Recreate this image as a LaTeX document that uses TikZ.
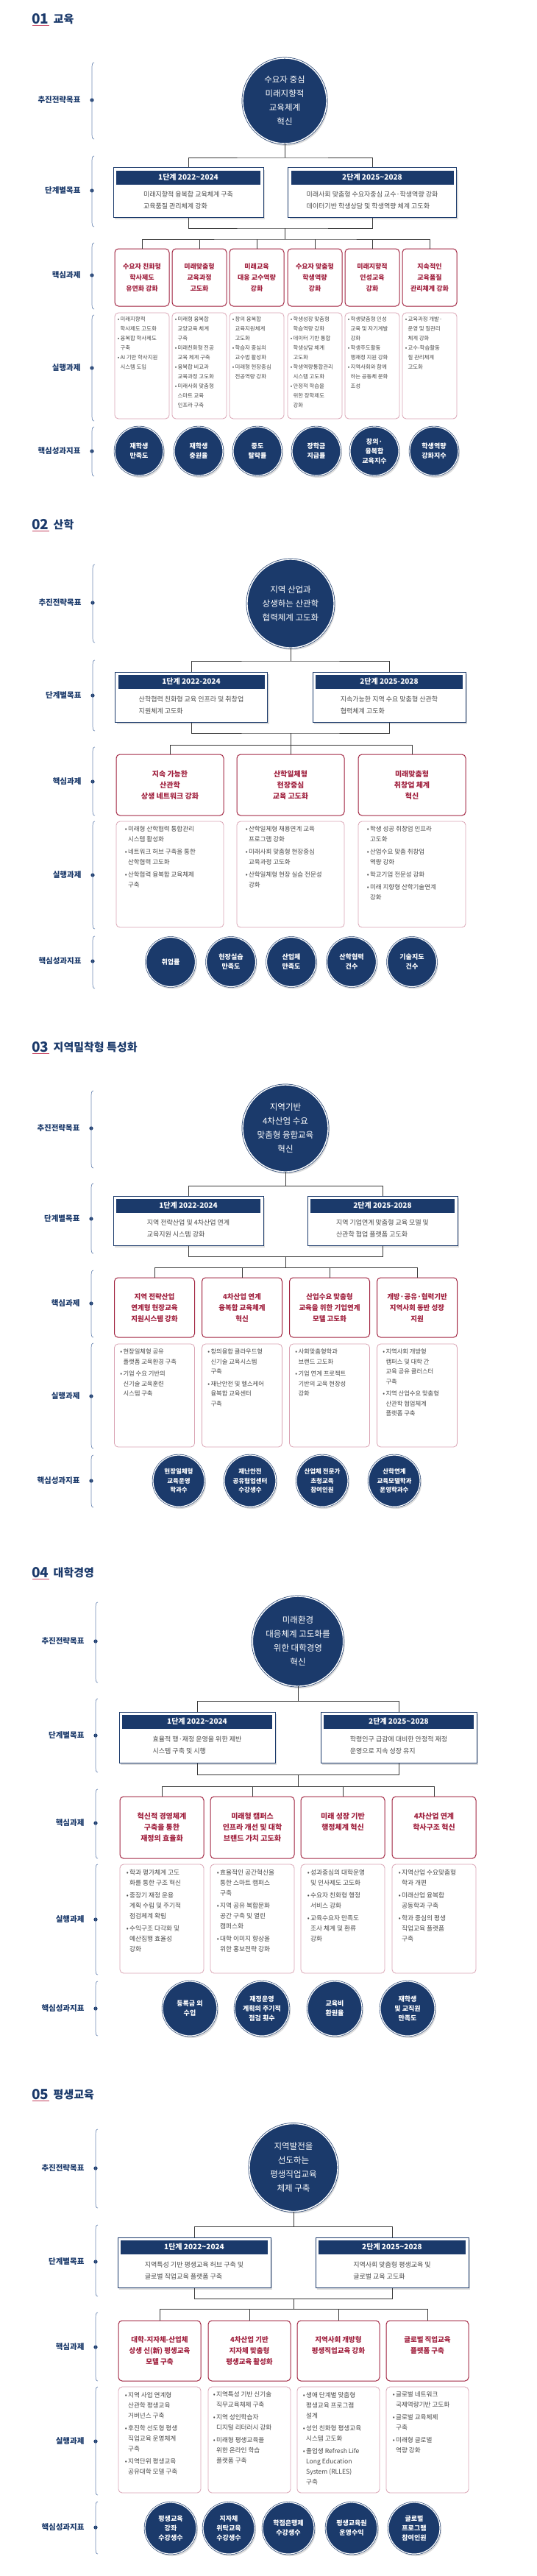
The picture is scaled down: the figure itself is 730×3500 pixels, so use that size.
\documentclass[tikz,border=0pt]{standalone}
\usepackage{fontspec}
\setmainfont{Noto Sans CJK KR}
\usetikzlibrary{shapes.geometric,calc,shadows}

\definecolor{navyc}{HTML}{1B3A6B}
\definecolor{maroonc}{HTML}{A1223F}
\definecolor{pinkc}{HTML}{D9A3B3}
\definecolor{linec}{HTML}{3A3A3A}
\definecolor{bracec}{HTML}{6F8AB5}
\definecolor{redline}{HTML}{C4405E}
\definecolor{textc}{HTML}{474747}

\newcommand{\bu}{•\,}
\newcommand{\ct}{\hphantom{•\,}}
\newcommand{\ph}{\phantom{가}}

\tikzset{
  softshadow/.style={drop shadow={shadow xshift=2pt,shadow yshift=-3pt,opacity=0.22,fill=black!60}},
  goal/.style={ellipse, fill=navyc, draw=navyc, double=white, double distance=1.4pt, line width=0.7pt,
    text=white, align=center, inner sep=0pt, font=\fontsize{11.5}{19}\selectfont, softshadow},
  phasebox/.style={draw=navyc, line width=1pt, fill=white, softshadow},
  phasehead/.style={fill=navyc, text=white, anchor=north, inner sep=0pt, minimum height=19,
    font=\bfseries\fontsize{10}{12}\selectfont},
  phasetext/.style={text=textc, align=left, inner sep=0pt, font=\fontsize{9}{16}\selectfont},
  task/.style={draw=maroonc, line width=1pt, rounded corners=5pt, fill=white, text=maroonc,
    align=center, inner sep=1pt, font=\bfseries\fontsize{10}{15}\selectfont},
  execbox/.style={draw=pinkc, line width=0.8pt, rounded corners=5pt, fill=white},
  exectext/.style={text=textc, align=left, anchor=north west, inner sep=0pt},
  kpi/.style={circle, fill=navyc, draw=navyc, double=white, double distance=1.2pt, line width=0.6pt,
    text=white, align=center, inner sep=0pt, font=\bfseries\fontsize{9}{13}\selectfont, softshadow},
  lab/.style={text=navyc, anchor=east, font=\bfseries\fontsize{10.5}{12}\selectfont},
  brace/.style={draw=bracec, line width=0.7pt},
  conn/.style={draw=linec, line width=0.9pt},
  secnum/.style={text=navyc, inner sep=1pt, font=\bfseries\fontsize{19}{20}\selectfont},
  sectext/.style={text=navyc, inner sep=1pt, font=\bfseries\fontsize{15}{18}\selectfont}
}

% side label with dot and bracket: name, x, y, top, bottom, text
\newcommand{\sidelab}[6]{%
  \node[lab] (#1) at (#2-12,#3) {#6};
  \fill[navyc] (#2,#3) circle (2.6);
  \draw[brace] ($(#2,#4)+(3,0)$) to[out=180,in=90] ($(#2,#4)+(0,6)$) -- ($(#2,#5)+(0,-6)$)
    to[out=-90,in=180] ($(#2,#5)+(3,0)$);}
% section title: name, y, number, text
\newcommand{\sectitle}[4]{%
  \node[secnum, anchor=west] (#1) at (42,#2) {#3};
  \node[sectext, anchor=west] (#1t) at ($(#1.east)+(4,0)$) {#4};
  \draw[redline, line width=1.4pt] ($(#1.south west)+(2,0)$) -- ($(#1.south east)+(-1,0)$);}

\begin{document}
\begin{tikzpicture}[x=1pt,y=-1pt]
\useasboundingbox[fill=white] (0,0) rectangle (730,3500);

%%%%%%%%%% 01 교육
\sectitle{s1}{26}{01}{교육}
\sidelab{l11}{125}{136}{85}{189}{추진전략목표}
\sidelab{l12}{125}{259}{212}{308}{단계별목표}
\sidelab{l13}{125}{374}{330}{420}{핵심과제}
\sidelab{l14}{125}{500}{428}{572}{실행과제}
\sidelab{l15}{125}{613}{580}{647}{핵심성과지표}

\node[goal, minimum width=114, minimum height=116] (g1) at (387,137) {수요자 중심\\미래지향적\\교육체계\\혁신};

\node[phasebox, minimum width=204, minimum height=67] (p11) at (256,261.5) {};
\node[phasehead, minimum width=196] (h11) at ($(p11.north)+(0,4)$) {1단계 2022\textasciitilde2024};
\node[phasetext] (b11) at ($(p11.center)+(0,11)$) {미래지향적 융복합 교육체계 구축\\교육품질 관리체계 강화};
\node[phasebox, minimum width=229, minimum height=67] (p12) at (506,261.5) {};
\node[phasehead, minimum width=221] (h12) at ($(p12.north)+(0,4)$) {2단계 2025\textasciitilde2028};
\node[phasetext] (b12) at ($(p12.center)+(0,11)$) {미래사회 맞춤형 수요자중심 교수·학생역량 강화\\데이터기반 학생상담 및 학생역량 체계 고도화};

\begin{scope}[every node/.append style={minimum width=74, minimum height=78}]
\node[task, font=\bfseries\fontsize{9}{15}\selectfont] (t11) at (193,377) {수요자 친화형\\학사제도\\유연화 강화};
\node[task, font=\bfseries\fontsize{9}{15}\selectfont] (t12) at (271,377) {미래맞춤형\\교육과정\\고도화};
\node[task, font=\bfseries\fontsize{9}{15}\selectfont] (t13) at (349,377) {미래교육\\대응 교수역량\\강화};
\node[task, font=\bfseries\fontsize{9}{15}\selectfont] (t14) at (428,377) {수요자 맞춤형\\학생역량\\강화};
\node[task, font=\bfseries\fontsize{9}{15}\selectfont] (t15) at (506,377) {미래지향적\\인성교육\\강화};
\node[task, font=\bfseries\fontsize{9}{15}\selectfont] (t16) at (584,377) {지속적인\\교육품질\\관리체계 강화};
\end{scope}

\foreach \n/\x in {1/193,2/271,3/349,4/428,5/506,6/584}
  \node[execbox, minimum width=74, minimum height=144] (e1\n) at (\x,497) {};
\tikzset{ex1/.style={exectext, font=\fontsize{7.4}{13}\selectfont}}
\node[ex1] (x11) at ($(e11.north west)+(4,6)$) {\bu 미래지향적\\\ct 학사제도 고도화\\\bu 융복합 학사제도\\\ct 구축\\\bu AI 기반 학사지원\\\ct 시스템 도입};
\node[ex1] (x12) at ($(e12.north west)+(4,6)$) {\bu 미래형 융복합\\\ct 교양교육 체계\\\ct 구축\\\bu 미래친화형 전공\\\ct 교육 체계 구축\\\bu 융복합 비교과\\\ct 교육과정 고도화\\\bu 미래사회 맞춤형\\\ct 스마트 교육\\\ct 인프라 구축};
\node[ex1] (x13) at ($(e13.north west)+(4,6)$) {\bu 창의 융복합\\\ct 교육지원체계\\\ct 고도화\\\bu 학습자 중심의\\\ct 교수법 활성화\\\bu 미래형 현장중심\\\ct 전공역량 강화};
\node[ex1] (x14) at ($(e14.north west)+(4,6)$) {\bu 학생성장 맞춤형\\\ct 학습역량 강화\\\bu 데이터 기반 통합\\\ct 학생상담 체계\\\ct 고도화\\\bu 학생역량통합관리\\\ct 시스템 고도화\\\bu 안정적 학습을\\\ct 위한 장학제도\\\ct 강화};
\node[ex1] (x15) at ($(e15.north west)+(4,6)$) {\bu 학생맞춤형 인성\\\ct 교육 및 자기계발\\\ct 강화\\\bu 학생주도활동\\\ct 행재정 지원 강화\\\bu 지역사회와 함께\\\ct 하는 공동체 문화\\\ct 조성};
\node[ex1] (x16) at ($(e16.north west)+(4,6)$) {\bu 교육과정 개발·\\\ct 운영 및 질관리\\\ct 체계 강화\\\bu 교수-학습활동\\\ct 질 관리체계\\\ct 고도화};

\node[kpi, minimum size=66] (k11) at (189,613) {재학생\\만족도};
\node[kpi, minimum size=66] (k12) at (270,613) {재학생\\충원율};
\node[kpi, minimum size=66] (k13) at (350,613) {중도\\탈락률};
\node[kpi, minimum size=66] (k14) at (430,613) {장학금\\지급률};
\node[kpi, minimum size=66] (k15) at (509,613) {창의·\\융복합\\교육지수};
\node[kpi, minimum size=66] (k16) at (590,613) {학생역량\\강화지수};

\coordinate (a11) at (387,214);
\coordinate (a12) at (387,310);
\coordinate (a13) at (387,325);
\draw[conn] (g1.south) -- (a11);
\draw[conn] (p11.north) |- (a11) -| (p12.north);
\draw[conn] (p11.south) |- (a12) -| (p12.south);
\draw[conn] (a12) -- (a13);
\draw[conn] (t11.north) |- (a13) -| (t16.north);
\foreach \i in {2,...,5} \draw[conn] (t1\i.north) -- (t1\i.north |- a13);

%%%%%%%%%% 02 산학
\sectitle{s2}{713}{02}{산학}
\sidelab{l21}{126}{819}{767}{873}{추진전략목표}
\sidelab{l22}{126}{945}{897}{993}{단계별목표}
\sidelab{l23}{126}{1062}{1015}{1108}{핵심과제}
\sidelab{l24}{126}{1189}{1116}{1262}{실행과제}
\sidelab{l25}{126}{1306}{1272}{1343}{핵심성과지표}

\node[goal, minimum width=118, minimum height=120] (g2) at (395,820) {지역 산업과\\상생하는 산관학\\협력체계 고도화};

\node[phasebox, minimum width=207, minimum height=68] (p21) at (260,947) {};
\node[phasehead, minimum width=199] (h21) at ($(p21.north)+(0,4)$) {1단계 2022-2024};
\node[phasetext] (b21) at ($(p21.center)+(0,11)$) {산학협력 친화형 교육 인프라 및 취창업\\지원체계 고도화};
\node[phasebox, minimum width=208, minimum height=68] (p22) at (529,947) {};
\node[phasehead, minimum width=200] (h22) at ($(p22.north)+(0,4)$) {2단계 2025-2028};
\node[phasetext] (b22) at ($(p22.center)+(0,11)$) {지속가능한 지역 수요 맞춤형 산관학\\협력체계 고도화};

\node[task, minimum width=146, minimum height=83] (t21) at (231,1066.5) {지속 가능한\\산관학\\상생 네트워크 강화};
\node[task, minimum width=146, minimum height=83] (t22) at (395,1066.5) {산학일체형\\현장중심\\교육 고도화};
\node[task, minimum width=146, minimum height=83] (t23) at (560,1066.5) {미래맞춤형\\취창업 체계\\혁신};

\foreach \n/\x in {1/231,2/395,3/560}
  \node[execbox, minimum width=146, minimum height=144] (e2\n) at (\x,1188) {};
\tikzset{ex2/.style={exectext, font=\fontsize{8.5}{14}\selectfont}}
\node[ex2] (x21) at ($(e21.north west)+(12,7)$) {\bu 미래형 산학협력 통합관리\\\ct 시스템 활성화\\[3pt]\bu 네트워크 허브 구축을 통한\\\ct 산학협력 고도화\\[3pt]\bu 산학협력 융복합 교육체제\\\ct 구축};
\node[ex2] (x22) at ($(e22.north west)+(12,7)$) {\bu 산학일체형 채용연계 교육\\\ct 프로그램 강화\\[3pt]\bu 미래사회 맞춤형 현장중심\\\ct 교육과정 고도화\\[3pt]\bu 산학일체형 현장 실습 전문성\\\ct 강화};
\node[ex2] (x23) at ($(e23.north west)+(12,7)$) {\bu 학생 성공 취창업 인프라\\\ct 고도화\\[3pt]\bu 산업수요 맞춤 취창업\\\ct 역량 강화\\[3pt]\bu 학교기업 전문성 강화\\[3pt]\bu 미래 지향형 산학기술연계\\\ct 강화};

\node[kpi, minimum size=67] (k21) at (232,1307) {취업률};
\node[kpi, minimum size=67] (k22) at (314,1307) {현장실습\\만족도};
\node[kpi, minimum size=67] (k23) at (396,1307) {산업체\\만족도};
\node[kpi, minimum size=67] (k24) at (478,1307) {산학협력\\건수};
\node[kpi, minimum size=67] (k25) at (560,1307) {기술지도\\건수};

\coordinate (a21) at (395,898);
\coordinate (a22) at (395,996);
\coordinate (a23) at (395,1012);
\draw[conn] (g2.south) -- (a21);
\draw[conn] (p21.north) |- (a21) -| (p22.north);
\draw[conn] (p21.south) |- (a22) -| (p22.south);
\draw[conn] (a22) -- (a23);
\draw[conn] (t21.north) |- (a23) -| (t23.north);
\draw[conn] (t22.north) -- (t22.north |- a23);

%%%%%%%%%% 03 지역밀착형 특성화
\sectitle{s3}{1423}{03}{지역밀착형 특성화}
\sidelab{l31}{124}{1533}{1482}{1587}{추진전략목표}
\sidelab{l32}{124}{1656}{1608}{1703}{단계별목표}
\sidelab{l33}{124}{1771}{1726}{1817}{핵심과제}
\sidelab{l34}{124}{1897}{1825}{1968}{실행과제}
\sidelab{l35}{124}{2012}{1977}{2048}{핵심성과지표}

\node[goal, minimum width=116, minimum height=118] (g3) at (388,1533) {지역기반\\4차산업 수요\\맞춤형 융합교육\\혁신};

\node[phasebox, minimum width=204, minimum height=67] (p31) at (256,1658.5) {};
\node[phasehead, minimum width=196] (h31) at ($(p31.north)+(0,4)$) {1단계 2022-2024};
\node[phasetext] (b31) at ($(p31.center)+(0,11)$) {지역 전략산업 및 4차산업 연계\\교육지원 시스템 강화};
\node[phasebox, minimum width=204, minimum height=67] (p32) at (520,1658.5) {};
\node[phasehead, minimum width=196] (h32) at ($(p32.north)+(0,4)$) {2단계 2025-2028};
\node[phasetext] (b32) at ($(p32.center)+(0,11)$) {지역 기업연계 맞춤형 교육 모델 및\\산관학 협업 플랫폼 고도화};

\begin{scope}[every node/.append style={minimum width=109, minimum height=81}]
\node[task, font=\bfseries\fontsize{9.5}{15}\selectfont] (t31) at (210,1776.5) {지역 전략산업\\연계형 현장교육\\지원시스템 강화};
\node[task, font=\bfseries\fontsize{9.5}{15}\selectfont] (t32) at (329,1776.5) {4차산업 연계\\융복합 교육체계\\혁신};
\node[task, font=\bfseries\fontsize{9.5}{15}\selectfont] (t33) at (448,1776.5) {산업수요 맞춤형\\교육을 위한 기업연계\\모델 고도화};
\node[task, font=\bfseries\fontsize{9.5}{15}\selectfont] (t34) at (567,1776.5) {개방·공유·협력기반\\지역사회 동반 성장\\지원};
\end{scope}

\foreach \n/\x in {1/210,2/329,3/448,4/567}
  \node[execbox, minimum width=109, minimum height=140] (e3\n) at (\x,1896) {};
\tikzset{ex3/.style={exectext, font=\fontsize{8.3}{13.5}\selectfont}}
\node[ex3] (x31) at ($(e31.north west)+(8,7)$) {\bu 현장일체형 공유\\\ct 플랫폼 교육환경 구축\\[3pt]\bu 기업 수요 기반의\\\ct 신기술 교육훈련\\\ct 시스템 구축};
\node[ex3] (x32) at ($(e32.north west)+(8,7)$) {\bu 창의융합 클라우드형\\\ct 신기술 교육시스템\\\ct 구축\\[3pt]\bu 재난안전 및 헬스케어\\\ct 융복합 교육센터\\\ct 구축};
\node[ex3] (x33) at ($(e33.north west)+(8,7)$) {\bu 사회맞춤형학과\\\ct 브랜드 고도화\\[3pt]\bu 기업 연계 프로젝트\\\ct 기반의 교육 현장성\\\ct 강화};
\node[ex3] (x34) at ($(e34.north west)+(8,7)$) {\bu 지역사회 개방형\\\ct 캠퍼스 및 대학 간\\\ct 교육 공유 클러스터\\\ct 구축\\[3pt]\bu 지역 산업수요 맞춤형\\\ct 산관학 협업체계\\\ct 플랫폼 구축};

\node[kpi, minimum size=70, font=\bfseries\fontsize{8.5}{12.5}\selectfont] (k31) at (243,2012) {현장일체형\\교육운영\\학과수};
\node[kpi, minimum size=70, font=\bfseries\fontsize{8.5}{12.5}\selectfont] (k32) at (340,2012) {재난안전\\공유협업센터\\수강생수};
\node[kpi, minimum size=70, font=\bfseries\fontsize{8.5}{12.5}\selectfont] (k33) at (438,2012) {산업체 전문가\\초청교육\\참여인원};
\node[kpi, minimum size=70, font=\bfseries\fontsize{8.5}{12.5}\selectfont] (k34) at (536,2012) {산학연계\\교육모델학과\\운영학과수};

\coordinate (a31) at (388,1611);
\coordinate (a32) at (388,1707);
\coordinate (a33) at (388,1722);
\draw[conn] (g3.south) -- (a31);
\draw[conn] (p31.north) |- (a31) -| (p32.north);
\draw[conn] (p31.south) |- (a32) -| (p32.south);
\draw[conn] (a32) -- (a33);
\draw[conn] (t31.north) |- (a33) -| (t34.north);
\foreach \i in {2,3} \draw[conn] (t3\i.north) -- (t3\i.north |- a33);

%%%%%%%%%% 04 대학경영
\sectitle{s4}{2137}{04}{대학경영}
\sidelab{l41}{130}{2230}{2177}{2286}{추진전략목표}
\sidelab{l42}{130}{2358}{2308}{2408}{단계별목표}
\sidelab{l43}{130}{2477}{2431}{2525}{핵심과제}
\sidelab{l44}{130}{2608}{2533}{2683}{실행과제}
\sidelab{l45}{130}{2729}{2692}{2766}{핵심성과지표}

\node[goal, minimum width=121, minimum height=122] (g4) at (405,2230) {미래환경\\대응체계 고도화를\\위한 대학경영\\혁신};

\node[phasebox, minimum width=212, minimum height=69] (p41) at (268,2360.5) {};
\node[phasehead, minimum width=204] (h41) at ($(p41.north)+(0,4)$) {1단계 2022\textasciitilde2024};
\node[phasetext] (b41) at ($(p41.center)+(0,11)$) {효율적 행·재정 운영을 위한 제반\\시스템 구축 및 시행};
\node[phasebox, minimum width=212, minimum height=69] (p42) at (542,2360.5) {};
\node[phasehead, minimum width=204] (h42) at ($(p42.north)+(0,4)$) {2단계 2025\textasciitilde2028};
\node[phasetext] (b42) at ($(p42.center)+(0,11)$) {학령인구 급감에 대비한 안정적 재정\\운영으로 지속 성장 유지};

\node[task, minimum width=114, minimum height=84] (t41) at (220,2483) {혁신적 경영체계\\구축을 통한\\재정의 효율화};
\node[task, minimum width=114, minimum height=84] (t42) at (343,2483) {미래형 캠퍼스\\인프라 개선 및 대학\\브랜드 가치 고도화};
\node[task, minimum width=114, minimum height=84] (t43) at (466,2483) {미래 성장 기반\\행정체계 혁신\\\ph};
\node[task, minimum width=114, minimum height=84] (t44) at (590,2483) {4차산업 연계\\학사구조 혁신\\\ph};

\foreach \n/\x in {1/220,2/343,3/466,4/590}
  \node[execbox, minimum width=114, minimum height=148] (e4\n) at (\x,2607) {};
\tikzset{ex4/.style={exectext, font=\fontsize{8.7}{14}\selectfont}}
\node[ex4] (x41) at ($(e41.north west)+(9,7)$) {\bu 학과 평가체계 고도\\\ct 화를 통한 구조 혁신\\[3pt]\bu 중장기 재정 운용\\\ct 계획 수립 및 주기적\\\ct 점검체계 확립\\[3pt]\bu 수익구조 다각화 및\\\ct 예산집행 효율성\\\ct 강화};
\node[ex4] (x42) at ($(e42.north west)+(9,7)$) {\bu 효율적인 공간혁신을\\\ct 통한 스마트 캠퍼스\\\ct 구축\\[3pt]\bu 지역 공유 복합문화\\\ct 공간 구축 및 열린\\\ct 캠퍼스화\\[3pt]\bu 대학 이미지 향상을\\\ct 위한 홍보전략 강화};
\node[ex4] (x43) at ($(e43.north west)+(9,7)$) {\bu 성과중심의 대학운영\\\ct 및 인사제도 고도화\\[3pt]\bu 수요자 친화형 행정\\\ct 서비스 강화\\[3pt]\bu 교육수요자 만족도\\\ct 조사 체계 및 환류\\\ct 강화};
\node[ex4] (x44) at ($(e44.north west)+(9,7)$) {\bu 지역산업 수요맞춤형\\\ct 학과 개편\\[3pt]\bu 미래산업 융복합\\\ct 공동학과 구축\\[3pt]\bu 학과 중심의 평생\\\ct 직업교육 플랫폼\\\ct 구축};

\node[kpi, minimum size=74] (k41) at (258,2729) {등록금 외\\수입};
\node[kpi, minimum size=74] (k42) at (356,2729) {재정운영\\계획의 주기적\\점검 횟수};
\node[kpi, minimum size=74] (k43) at (455,2729) {교육비\\환원율};
\node[kpi, minimum size=74] (k44) at (554,2729) {재학생\\및 교직원\\만족도};

\coordinate (a41) at (405,2311);
\coordinate (a42) at (405,2411);
\coordinate (a43) at (405,2427);
\draw[conn] (g4.south) -- (a41);
\draw[conn] (p41.north) |- (a41) -| (p42.north);
\draw[conn] (p41.south) |- (a42) -| (p42.south);
\draw[conn] (a42) -- (a43);
\draw[conn] (t41.north) |- (a43) -| (t44.north);
\foreach \i in {2,3} \draw[conn] (t4\i.north) -- (t4\i.north |- a43);

%%%%%%%%%% 05 평생교육
\sectitle{s5}{2846}{05}{평생교육}
\sidelab{l51}{130}{2946}{2893}{3000}{추진전략목표}
\sidelab{l52}{130}{3073}{3023}{3120}{단계별목표}
\sidelab{l53}{130}{3189}{3142}{3235}{핵심과제}
\sidelab{l54}{130}{3317}{3243}{3390}{실행과제}
\sidelab{l55}{130}{3434}{3399}{3470}{핵심성과지표}

\node[goal, minimum width=120, minimum height=119] (g5) at (399,2945) {지역발전을\\선도하는\\평생직업교육\\체제 구축};

\node[phasebox, minimum width=208, minimum height=68] (p51) at (264,3074) {};
\node[phasehead, minimum width=200] (h51) at ($(p51.north)+(0,4)$) {1단계 2022\textasciitilde2024};
\node[phasetext] (b51) at ($(p51.center)+(0,11)$) {지역특성 기반 평생교육 허브 구축 및\\글로벌 직업교육 플랫폼 구축};
\node[phasebox, minimum width=208, minimum height=68] (p52) at (533,3074) {};
\node[phasehead, minimum width=200] (h52) at ($(p52.north)+(0,4)$) {2단계 2025\textasciitilde2028};
\node[phasetext] (b52) at ($(p52.center)+(0,11)$) {지역사회 맞춤형 평생교육 및\\글로벌 교육 고도화};

\begin{scope}[every node/.append style={minimum width=112, minimum height=82}]
\node[task, font=\bfseries\fontsize{9.5}{15}\selectfont] (t51) at (217,3194) {대학-지자체-산업체\\상생 신(新) 평생교육\\모델 구축};
\node[task, font=\bfseries\fontsize{9.5}{15}\selectfont] (t52) at (339,3194) {4차산업 기반\\지자체 맞춤형\\평생교육 활성화};
\node[task, font=\bfseries\fontsize{9.5}{15}\selectfont] (t53) at (460,3194) {지역사회 개방형\\평생직업교육 강화\\\ph};
\node[task, font=\bfseries\fontsize{9.5}{15}\selectfont] (t54) at (581,3194) {글로벌 직업교육\\플랫폼 구축\\\ph};
\end{scope}

\foreach \n/\x in {1/217,2/339,3/460,4/581}
  \node[execbox, minimum width=112, minimum height=144] (e5\n) at (\x,3315) {};
\tikzset{ex5/.style={exectext, font=\fontsize{8.6}{14}\selectfont}}
\node[ex5] (x51) at ($(e51.north west)+(9,7)$) {\bu 지역 사업 연계형\\\ct 산관학 평생교육\\\ct 거버넌스 구축\\[3pt]\bu 후진학 선도형 평생\\\ct 직업교육 운영체계\\\ct 구축\\[3pt]\bu 지역단위 평생교육\\\ct 공유대학 모델 구축};
\node[ex5] (x52) at ($(e52.north west)+(7,7)$) {\bu 지역특성 기반 신기술\\\ct 직무교육체제 구축\\[3pt]\bu 지역 성인학습자\\\ct 디지털 리터러시 강화\\[3pt]\bu 미래형 평생교육을\\\ct 위한 온라인 학습\\\ct 플랫폼 구축};
\node[ex5] (x53) at ($(e53.north west)+(8,7)$) {\bu 생애 단계별 맞춤형\\\ct 평생교육 프로그램\\\ct 설계\\[3pt]\bu 성인 친화형 평생교육\\\ct 시스템 고도화\\[3pt]\bu 졸업생 Refresh Life\\\ct Long Education\\\ct System (RLLES)\\\ct 구축};
\node[ex5] (x54) at ($(e54.north west)+(9,7)$) {\bu 글로벌 네트워크\\\ct 국제역량기반 고도화\\[3pt]\bu 글로벌 교육체제\\\ct 구축\\[3pt]\bu 미래형 글로벌\\\ct 역량 강화};

\node[kpi, minimum size=70] (k51) at (232,3435) {평생교육\\강좌\\수강생수};
\node[kpi, minimum size=70] (k52) at (311,3435) {지자체\\위탁교육\\수강생수};
\node[kpi, minimum size=70] (k53) at (392,3435) {학점은행제\\수강생수};
\node[kpi, minimum size=70] (k54) at (478,3435) {평생교육원\\운영수익};
\node[kpi, minimum size=70] (k55) at (563,3435) {글로벌\\프로그램\\참여인원};

\coordinate (a51) at (399,3025);
\coordinate (a52) at (399,3123);
\coordinate (a53) at (399,3137);
\draw[conn] (g5.south) -- (a51);
\draw[conn] (p51.north) |- (a51) -| (p52.north);
\draw[conn] (p51.south) |- (a52) -| (p52.south);
\draw[conn] (a52) -- (a53);
\draw[conn] (t51.north) |- (a53) -| (t54.north);
\foreach \i in {2,3} \draw[conn] (t5\i.north) -- (t5\i.north |- a53);

\end{tikzpicture}
\end{document}
